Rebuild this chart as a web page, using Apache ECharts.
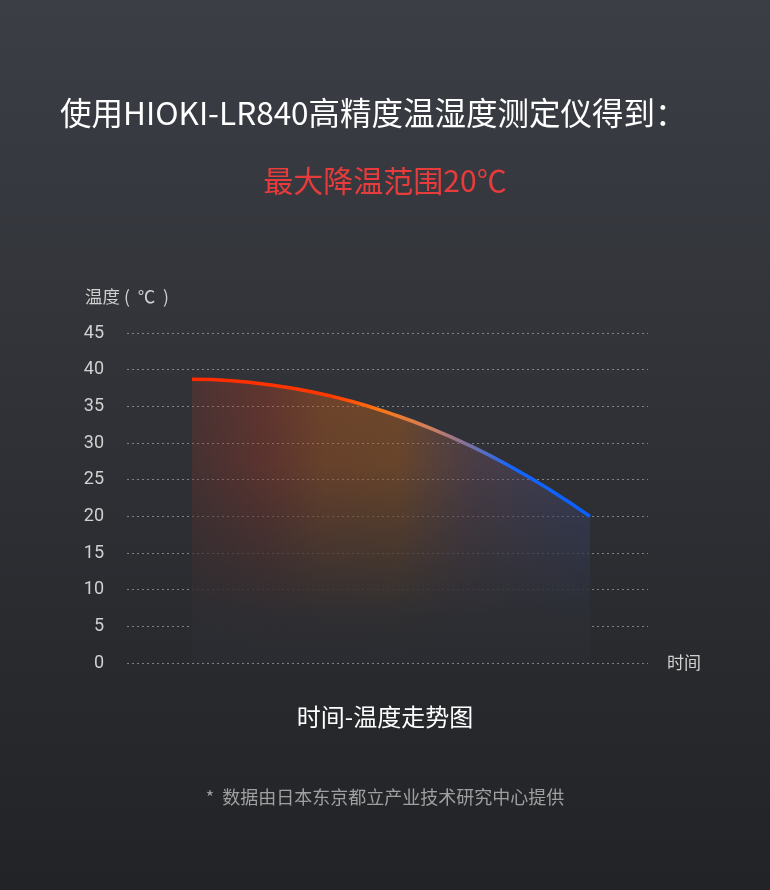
<!DOCTYPE html>
<html>
<head>
<meta charset="UTF-8">
<title>时间-温度走势图</title>
<script src="https://cdn.jsdelivr.net/npm/echarts@6/dist/echarts.min.js"></script>
<style>
  html, body { margin: 0; padding: 0; }
  #chart1 { width: 770px; height: 890px; }
</style>
</head>
<body>
<div id="chart1"></div>
<script type="text/javascript">
// 数据
var timeValues = [0, 1, 2, 3, 4, 5, 6, 7, 8, 9, 10];
var tempValues = [38.7, 38.5, 37.9, 37.0, 35.7, 34.0, 32.0, 29.6, 26.8, 23.6, 20.0];
var yTicks = [0, 5, 10, 15, 20, 25, 30, 35, 40, 45];

var points = timeValues.map(function (t, i) { return [t, tempValues[i]]; });
var fontCJK = '"Noto Sans CJK SC", "Noto Sans", sans-serif';

var chart1 = echarts.init(document.getElementById('chart1'));
var option = {
    backgroundColor: {
        type: 'linear', x: 0, y: 0, x2: 0, y2: 1,
        colorStops: [
            { offset: 0, color: '#3b3e45' },
            { offset: 1, color: '#222326' }
        ]
    },
    textStyle: { fontFamily: fontCJK },
    title: [{
        text: '使用HIOKI-LR840高精度温湿度测定仪得到：',
        left: 55, top: 92,
        textStyle: { color: '#ffffff', fontSize: 31.5, fontWeight: 'normal', fontFamily: fontCJK }
    }, {
        text: '最大降温范围20℃',
        left: 'center', top: 161,
        textStyle: { color: '#e83b3b', fontSize: 30, fontWeight: 'normal', fontFamily: fontCJK }
    }, {
        // y 轴名称
        text: '温度 (  ℃  )',
        left: 80, top: 283,
        textStyle: { color: '#d0d0d0', fontSize: 17.5, fontWeight: 'normal', fontFamily: fontCJK }
    }, {
        text: '时间-温度走势图',
        left: 'center', top: 700,
        textStyle: { color: '#ffffff', fontSize: 24, fontWeight: 'normal', fontFamily: fontCJK }
    }, {
        text: '*  数据由日本东京都立产业技术研究中心提供',
        left: 'center', top: 783,
        textStyle: { color: '#a0a0a0', fontSize: 18, fontWeight: 'normal', fontFamily: fontCJK }
    }],
    grid: { left: 127, right: 122, top: 333, bottom: 227 },
    xAxis: {
        type: 'value',
        min: -1.633, max: 11.457,
        name: '时间',
        nameLocation: 'end',
        nameGap: 19,
        nameTextStyle: { color: '#d0d0d0', fontSize: 17, fontFamily: fontCJK, verticalAlign: 'middle' },
        axisLine: { show: false },
        axisTick: { show: false },
        axisLabel: { show: false },
        splitLine: { show: false }
    },
    yAxis: {
        type: 'value',
        min: yTicks[0], max: yTicks[yTicks.length - 1], interval: 5,
        axisLine: { show: false },
        axisTick: { show: false },
        axisLabel: { color: '#d0d0d0', fontSize: 18, margin: 23, fontFamily: 'Roboto, "Noto Sans", sans-serif' },
        splitLine: { show: true, lineStyle: { color: 'rgba(200,200,200,0.55)', type: [2, 3], width: 1 } }
    },
    series: [{
        // 面积颜色层
        type: 'line',
        data: points,
        smooth: true,
        symbol: 'none',
        silent: true,
        z: 1,
        lineStyle: { width: 0 },
        areaStyle: {
            opacity: 1,
            color: {
                type: 'linear', x: 0, y: 0, x2: 1, y2: 0,
                colorStops: [
                    { offset: 0, color: 'rgba(180,55,35,0.2)' },
                    { offset: 0.18, color: 'rgba(200,60,30,0.32)' },
                    { offset: 0.33, color: 'rgba(205,95,25,0.4)' },
                    { offset: 0.52, color: 'rgba(205,105,25,0.4)' },
                    { offset: 0.7, color: 'rgba(150,95,110,0.3)' },
                    { offset: 1, color: 'rgba(80,100,200,0.27)' }
                ]
            }
        }
    }, {
        // 底部渐隐层
        type: 'line',
        data: points,
        smooth: true,
        symbol: 'none',
        silent: true,
        z: 2,
        lineStyle: { width: 0 },
        areaStyle: {
            opacity: 1,
            color: {
                type: 'linear', x: 0, y: 0, x2: 0, y2: 1,
                colorStops: [
                    { offset: 0, color: 'rgba(44,46,52,0)' },
                    { offset: 0.3, color: 'rgba(44,46,52,0.1)' },
                    { offset: 0.84, color: 'rgba(43,45,50,0.94)' },
                    { offset: 1, color: 'rgba(42,44,49,1)' }
                ]
            }
        }
    }, {
        // 温度曲线
        type: 'line',
        data: points,
        smooth: true,
        symbol: 'none',
        z: 3,
        lineStyle: {
            width: 3.5,
            color: {
                type: 'linear', x: 0, y: 0, x2: 1, y2: 0,
                colorStops: [
                    { offset: 0, color: '#ff2a00' },
                    { offset: 0.35, color: '#ff3a00' },
                    { offset: 0.47, color: '#ff7612' },
                    { offset: 0.6, color: '#cf8060' },
                    { offset: 0.68, color: '#877395' },
                    { offset: 0.8, color: '#1466ff' },
                    { offset: 1, color: '#0a60ff' }
                ]
            }
        }
    }],
    animation: false
};
chart1.setOption(option);
</script>
</body>
</html>
